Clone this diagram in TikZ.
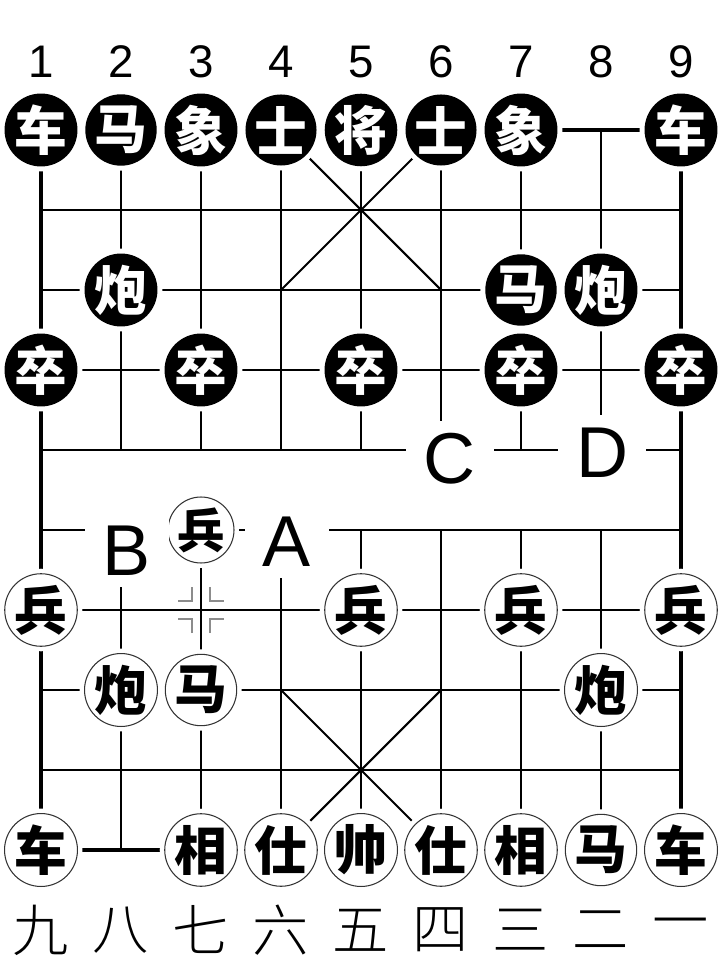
\documentclass[tikz,border=0pt]{standalone}
\usepackage{fontspec}
\setmainfont{Liberation Sans}
\newfontfamily\cjk{Noto Sans CJK SC}
\newfontfamily\cjklight{Noto Sans CJK SC}[UprightFont={* Light}]
\tikzset{
  gridline/.style={line width=1.2pt},
  edgeline/.style={line width=1.8pt},
  pointmark/.style={black!45, line width=1.3pt},
  blackpiece/.style={circle, fill=black, text=white, inner sep=0pt, minimum size=1.42cm,
    preaction={draw=white, line width=0.2cm}, font=\cjk\bfseries\fontsize{30}{30}\selectfont},
  whitepiece/.style={circle, fill=white, draw=black!80, line width=0.6pt, inner sep=0pt, minimum size=1.42cm,
    preaction={draw=white, line width=0.2cm}, font=\cjk\bfseries\fontsize{30}{30}\selectfont},
  letter/.style={fill=white, inner xsep=0.36cm, inner ysep=0.22cm, text height=1.04cm, text depth=0pt,
    font=\fontsize{41}{41}\selectfont},
}
\begin{document}
\begin{tikzpicture}[x=0.02cm, y=-0.02cm]
    \useasboundingbox (0,0) rectangle (720,972);
    % board
    \foreach \r in {1,...,8}
        \draw [gridline] (41,130+80*\r) -- (681,130+80*\r);
    \draw [edgeline] (41,130) -- (681,130);
    \draw [edgeline] (41,850) -- (681,850);
    \foreach \c in {1,...,7} {
        \draw [gridline] (41+80*\c,130) -- (41+80*\c,450);
        \draw [gridline] (41+80*\c,530) -- (41+80*\c,850);
    }
    \draw [edgeline] (41,130) -- (41,850);
    \draw [edgeline] (681,130) -- (681,850);
    \draw [gridline] (281,130) -- (441,290);
    \draw [gridline] (441,130) -- (281,290);
    \draw [gridline] (281,690) -- (441,850);
    \draw [gridline] (441,690) -- (281,850);
    % point marks
    \foreach \sx in {-1,1}
        \foreach \sy in {-1,1}
            \draw [pointmark] (201+9*\sx,610+23*\sy) -- (201+9*\sx,610+9*\sy) -- (201+23*\sx,610+9*\sy);
    % file numbers
    \foreach \c/\t in {1/1,2/2,3/3,4/4,5/5,6/6,7/7,8/8,9/9}
        \node (top\c) at (-39+80*\c,62) {\fontsize{26}{26}\selectfont\t};
    \foreach \c/\t in {1/九,2/八,3/七,4/六,5/五,6/四,7/三,8/二,9/一}
        \node (bot\c) at (-39+80*\c,930) {\cjklight\fontsize{32}{32}\selectfont\t};
    % black side
    \foreach \c/\r/\t in {1/0/车,2/0/马,3/0/象,4/0/士,5/0/将,6/0/士,7/0/象,9/0/车,
                          2/2/炮,7/2/马,8/2/炮,1/3/卒,3/3/卒,5/3/卒,7/3/卒,9/3/卒}
        \node [blackpiece] (b\c\r) at (-39+80*\c,130+80*\r) {\t};
    % red side
    \foreach \c/\r/\t in {1/6/兵,5/6/兵,7/6/兵,9/6/兵,2/7/炮,3/7/马,8/7/炮,
                          1/9/车,3/9/相,4/9/仕,5/9/帅,6/9/仕,7/9/相,8/9/马,9/9/车}
        \node [whitepiece] (w\c\r) at (-39+80*\c,130+80*\r) {\t};
    \node [whitepiece, minimum size=1.32cm, font=\cjk\bfseries\fontsize{27}{27}\selectfont] (w35) at (201,530) {兵};
    % squares
    \node [letter] (sqA) at (287,541) {A};
    \node [letter] (sqB) at (127,550) {B};
    \node [letter] (sqC) at (450,458) {C};
    \node [letter] (sqD) at (602,452) {D};
\end{tikzpicture}
\end{document}
